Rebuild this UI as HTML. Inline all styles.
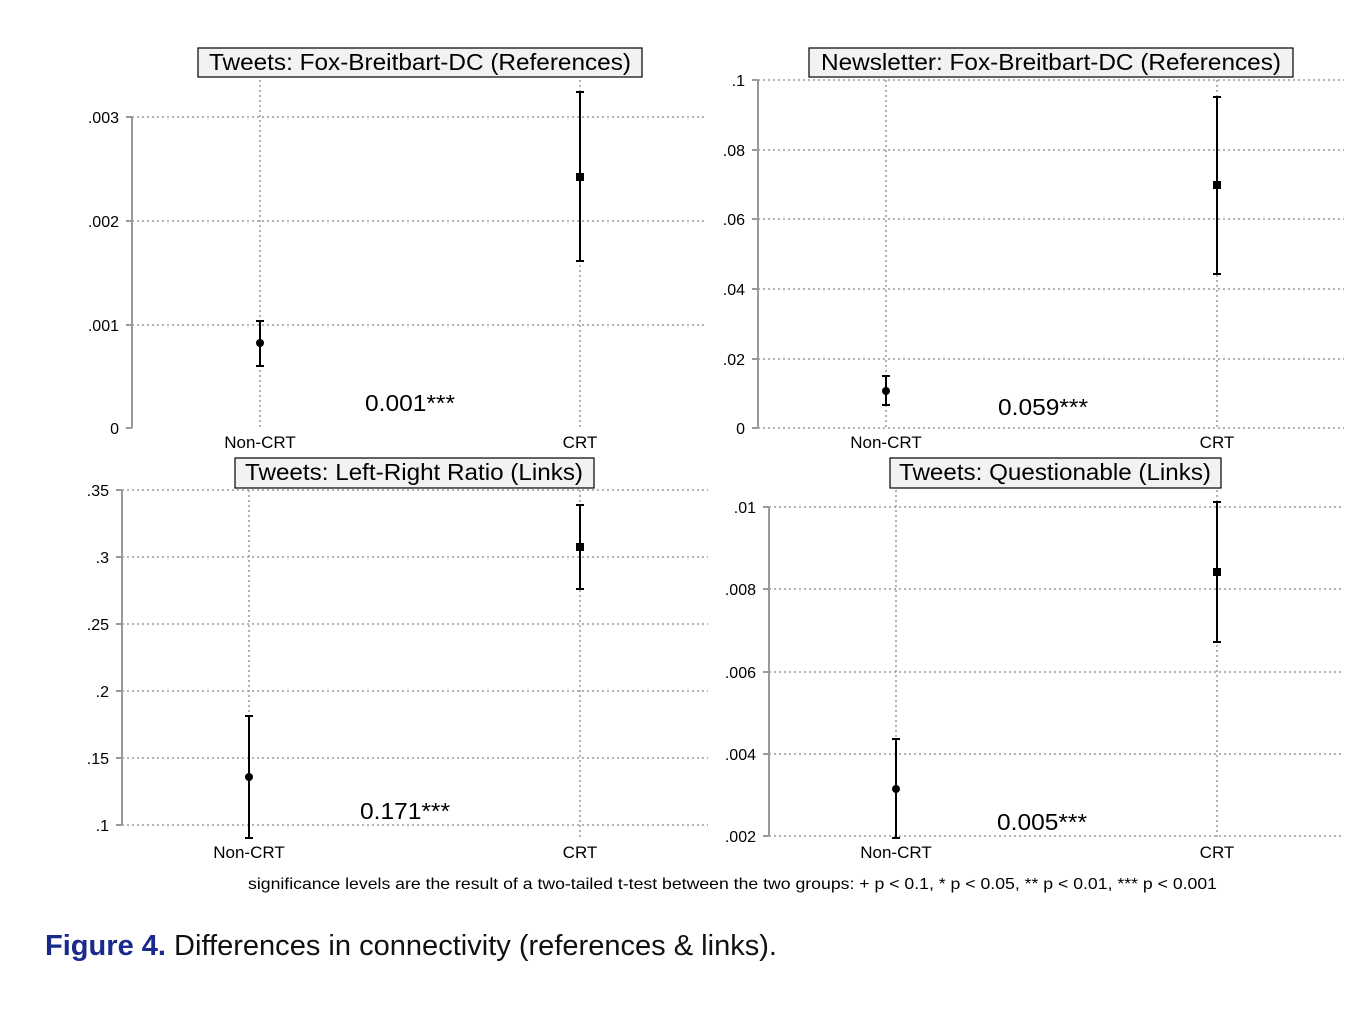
<!DOCTYPE html>
<html><head><meta charset="utf-8"><style>body{margin:0;background:#fff}</style></head>
<body>
<svg width="1372" height="1008" xmlns="http://www.w3.org/2000/svg" font-family="Liberation Sans, Arial, sans-serif">
<rect width="1372" height="1008" fill="#fff"/>
<g stroke="#999" stroke-width="1.5" stroke-dasharray="2,3" fill="none">
<path d="M132 117H706M132 221H706M132 325H706M260 80V428M580 80V428"/>
<path d="M758 80H1344M758 150H1344M758 219H1344M758 289H1344M758 359H1344M758 428H1344M886 80V428M1217 80V428"/>
<path d="M122 490H708M122 557H708M122 624H708M122 691H708M122 758H708M122 825H708M249 490V838M580 490V838"/>
<path d="M769 507H1342M769 589H1342M769 672H1342M769 754H1342M769 836H1342M896 490V838M1217 490V838"/>
</g>
<g stroke="#999" stroke-width="2" fill="none">
<path d="M132 117V428M126 117H132M126 221H132M126 325H132M126 428H132"/>
<path d="M758 80V428M752 80H758M752 150H758M752 219H758M752 289H758M752 359H758M752 428H758"/>
<path d="M122 490V825M116 490H122M116 557H122M116 624H122M116 691H122M116 758H122M116 825H122"/>
<path d="M769 507V836M763 507H769M763 589H769M763 672H769M763 754H769M763 836H769"/>
</g>
<g font-size="16" text-anchor="end" fill="#000">
<text x="119" y="123">.003</text><text x="119" y="227">.002</text><text x="119" y="331">.001</text><text x="119" y="434">0</text>
<text x="745" y="86">.1</text><text x="745" y="156">.08</text><text x="745" y="225">.06</text><text x="745" y="295">.04</text><text x="745" y="365">.02</text><text x="745" y="434">0</text>
<text x="109" y="496">.35</text><text x="109" y="563">.3</text><text x="109" y="630">.25</text><text x="109" y="697">.2</text><text x="109" y="764">.15</text><text x="109" y="831">.1</text>
<text x="756" y="513">.01</text><text x="756" y="595">.008</text><text x="756" y="678">.006</text><text x="756" y="760">.004</text><text x="756" y="842">.002</text>
</g>
<g font-size="17" text-anchor="middle" fill="#000">
<text x="260" y="448">Non-CRT</text><text x="580" y="448">CRT</text>
<text x="886" y="448">Non-CRT</text><text x="1217" y="448">CRT</text>
<text x="249" y="858">Non-CRT</text><text x="580" y="858">CRT</text>
<text x="896" y="858">Non-CRT</text><text x="1217" y="858">CRT</text>
</g>
<g fill="#f2f2f2" stroke="#000" stroke-width="1.2">
<rect x="198" y="48" width="444" height="29"/>
<rect x="809" y="48" width="484" height="29"/>
<rect x="235" y="458" width="359" height="30"/>
<rect x="890" y="458" width="331" height="30"/>
</g>
<g font-size="23" text-anchor="middle" fill="#000">
<text x="420" y="70" textLength="422" lengthAdjust="spacingAndGlyphs">Tweets: Fox-Breitbart-DC (References)</text>
<text x="1051" y="70" textLength="460" lengthAdjust="spacingAndGlyphs">Newsletter: Fox-Breitbart-DC (References)</text>
<text x="414" y="480" textLength="338" lengthAdjust="spacingAndGlyphs">Tweets: Left-Right Ratio (Links)</text>
<text x="1055" y="480" textLength="312" lengthAdjust="spacingAndGlyphs">Tweets: Questionable (Links)</text>
<text x="410" y="411" textLength="90" lengthAdjust="spacingAndGlyphs">0.001***</text>
<text x="1043" y="415" textLength="90" lengthAdjust="spacingAndGlyphs">0.059***</text>
<text x="405" y="819" textLength="90" lengthAdjust="spacingAndGlyphs">0.171***</text>
<text x="1042" y="830" textLength="90" lengthAdjust="spacingAndGlyphs">0.005***</text>
</g>
<g stroke="#000" stroke-width="2" fill="none">
<path d="M260 321V366M256 321H264M256 366H264"/>
<path d="M580 92V261M576 92H584M576 261H584"/>
<path d="M886 376V405M882 376H890M882 405H890"/>
<path d="M1217 97V274M1213 97H1221M1213 274H1221"/>
<path d="M249 716V838M245 716H253M245 838H253"/>
<path d="M580 505V589M576 505H584M576 589H584"/>
<path d="M896 739V838M892 739H900M892 838H900"/>
<path d="M1217 502V642M1213 502H1221M1213 642H1221"/>
</g>
<g fill="#000">
<circle cx="260" cy="343" r="4"/><rect x="576" y="173" width="8" height="8"/>
<circle cx="886" cy="391" r="4"/><rect x="1213" y="181" width="8" height="8"/>
<circle cx="249" cy="777" r="4"/><rect x="576" y="543" width="8" height="8"/>
<circle cx="896" cy="789" r="4"/><rect x="1213" y="568" width="8" height="8"/>
</g>
<text x="248" y="889" font-size="16" textLength="969" lengthAdjust="spacingAndGlyphs">significance levels are the result of a two-tailed t-test between the two groups: + p &lt; 0.1, * p &lt; 0.05, ** p &lt; 0.01, *** p &lt; 0.001</text>
<text x="45" y="955" font-size="29" textLength="732" lengthAdjust="spacingAndGlyphs"><tspan fill="#1a2a8c" font-weight="bold">Figure 4.</tspan><tspan fill="#111"> Differences in connectivity (references &amp; links).</tspan></text>
</svg>
</body></html>
